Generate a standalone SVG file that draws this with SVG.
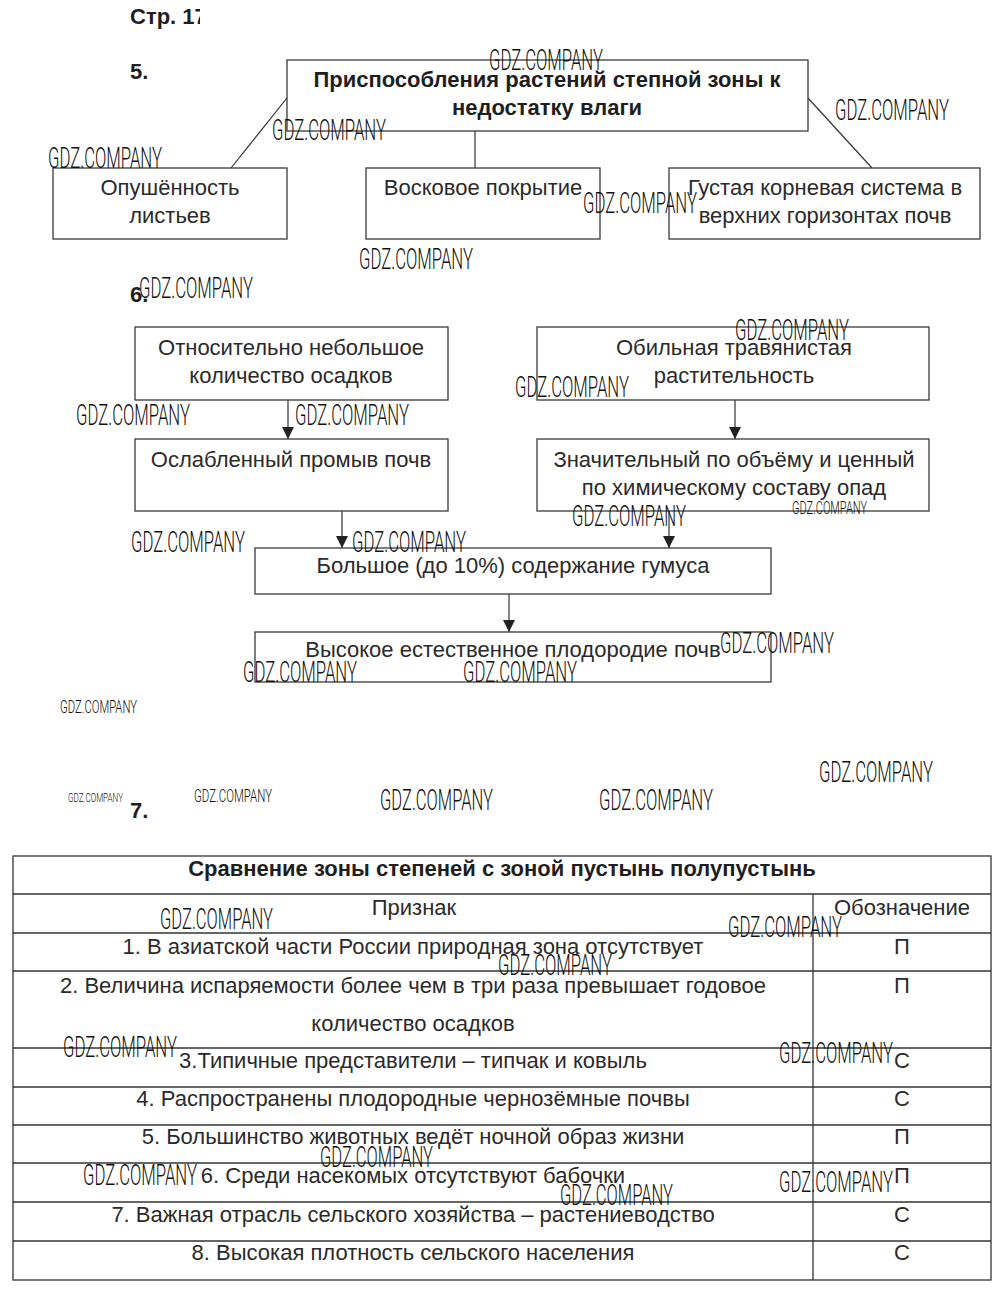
<svg xmlns="http://www.w3.org/2000/svg" width="1000" height="1291" viewBox="0 0 1000 1291">
<style>
.bg{fill:#ffffff}
.box{fill:none;stroke:#3a3a3a;stroke-width:1.3}
.ln{fill:none;stroke:#333333;stroke-width:1.2}
.t{font-family:"Liberation Sans",Arial,sans-serif;font-size:22px;fill:#2a2a2a;text-anchor:middle}
.b{font-family:"Liberation Sans",Arial,sans-serif;font-weight:bold;font-size:22px;fill:#1e1e1e}
.wm{font-family:Roboto,"Liberation Sans",sans-serif;font-weight:300;font-size:29px;fill:#111111}
.wms{font-family:Roboto,"Liberation Sans",sans-serif;font-weight:300;font-size:18px;fill:#111111}
.wmt{font-family:Roboto,"Liberation Sans",sans-serif;font-weight:300;font-size:13px;fill:#111111}
.grid{stroke:#333333;stroke-width:1.3;fill:none}
</style>
<defs>
<marker id="arr" markerUnits="userSpaceOnUse" markerWidth="12" markerHeight="12" refX="12" refY="6" orient="auto">
<path d="M0,0 L12,6 L0,12 z" fill="#222222"/>
</marker>
<clipPath id="clipPage"><rect x="0" y="0" width="200" height="40"/></clipPath>
</defs>
<rect class="bg" x="0" y="0" width="1000" height="1291"/>

<text class="b" x="130" y="24" clip-path="url(#clipPage)">Стр. 17</text>
<text class="b" x="130" y="79">5.</text>
<text class="b" x="130" y="302">6.</text>
<text class="b" x="130" y="818">7.</text>

<g id="connectors">
<line class="ln" x1="287" y1="98" x2="231" y2="168"/>
<line class="ln" x1="475" y1="131" x2="475" y2="168"/>
<line class="ln" x1="808" y1="98" x2="872" y2="168"/>
<line class="ln" x1="288" y1="400" x2="288" y2="439" marker-end="url(#arr)"/>
<line class="ln" x1="735" y1="400" x2="735" y2="439" marker-end="url(#arr)"/>
<line class="ln" x1="342" y1="511" x2="342" y2="548" marker-end="url(#arr)"/>
<line class="ln" x1="669" y1="511" x2="669" y2="548" marker-end="url(#arr)"/>
<line class="ln" x1="509" y1="594" x2="509" y2="632" marker-end="url(#arr)"/>
</g>

<g id="n5-title">
<rect class="box" x="287" y="60" width="521" height="71"/>
<text class="b" x="547" y="87" text-anchor="middle">Приспособления растений степной зоны к</text>
<text class="b" x="547" y="115" text-anchor="middle">недостатку влаги</text>
</g>
<g id="n5-a">
<rect class="box" x="53" y="168" width="234" height="71"/>
<text class="t" x="170" y="195">Опушённость</text>
<text class="t" x="170" y="223">листьев</text>
</g>
<g id="n5-b">
<rect class="box" x="366" y="168" width="234" height="71"/>
<text class="t" x="483" y="195">Восковое покрытие</text>
</g>
<g id="n5-c">
<rect class="box" x="669" y="168" width="311" height="71"/>
<text class="t" x="825" y="195">Густая корневая система в</text>
<text class="t" x="825" y="223">верхних горизонтах почв</text>
</g>

<g id="n6-a">
<rect class="box" x="135" y="327" width="313" height="73"/>
<text class="t" x="291" y="355">Относительно небольшое</text>
<text class="t" x="291" y="383">количество осадков</text>
</g>
<g id="n6-b">
<rect class="box" x="537" y="327" width="392" height="73"/>
<text class="t" x="734" y="355">Обильная травянистая</text>
<text class="t" x="734" y="383">растительность</text>
</g>
<g id="n6-c">
<rect class="box" x="135" y="439" width="313" height="72"/>
<text class="t" x="291" y="467">Ослабленный промыв почв</text>
</g>
<g id="n6-d">
<rect class="box" x="537" y="439" width="392" height="72"/>
<text class="t" x="734" y="467">Значительный по объёму и ценный</text>
<text class="t" x="734" y="495">по химическому составу опад</text>
</g>
<g id="n6-e">
<rect class="box" x="255" y="548" width="516" height="46"/>
<text class="t" x="513" y="573">Большое (до 10%) содержание гумуса</text>
</g>
<g id="n6-f">
<rect class="box" x="255" y="632" width="516" height="50"/>
<text class="t" x="513" y="657">Высокое естественное плодородие почв</text>
</g>

<g id="table">
<rect class="grid" x="13" y="856" width="978" height="424"/>
<line class="grid" x1="13" y1="894" x2="991" y2="894"/>
<line class="grid" x1="13" y1="933" x2="991" y2="933"/>
<line class="grid" x1="13" y1="971" x2="991" y2="971"/>
<line class="grid" x1="13" y1="1048" x2="991" y2="1048"/>
<line class="grid" x1="13" y1="1087" x2="991" y2="1087"/>
<line class="grid" x1="13" y1="1125" x2="991" y2="1125"/>
<line class="grid" x1="13" y1="1163" x2="991" y2="1163"/>
<line class="grid" x1="13" y1="1202" x2="991" y2="1202"/>
<line class="grid" x1="13" y1="1241" x2="991" y2="1241"/>
<line class="grid" x1="813" y1="894" x2="813" y2="1280"/>
<text class="b" x="502" y="876" text-anchor="middle">Сравнение зоны степеней с зоной пустынь полупустынь</text>
<text class="t" x="414" y="915">Признак</text>
<text class="t" x="902" y="915">Обозначение</text>
<text class="t" x="413" y="954">1. В азиатской части России природная зона отсутствует</text>
<text class="t" x="902" y="954">П</text>
<text class="t" x="413" y="993">2. Величина испаряемости более чем в три раза превышает годовое</text>
<text class="t" x="413" y="1031">количество осадков</text>
<text class="t" x="902" y="993">П</text>
<text class="t" x="413" y="1068">3.Типичные представители – типчак и ковыль</text>
<text class="t" x="902" y="1068">С</text>
<text class="t" x="413" y="1106">4. Распространены плодородные чернозёмные почвы</text>
<text class="t" x="902" y="1106">С</text>
<text class="t" x="413" y="1144">5. Большинство животных ведёт ночной образ жизни</text>
<text class="t" x="902" y="1144">П</text>
<text class="t" x="413" y="1183">6. Среди насекомых отсутствуют бабочки</text>
<text class="t" x="902" y="1183">П</text>
<text class="t" x="413" y="1222">7. Важная отрасль сельского хозяйства – растениеводство</text>
<text class="t" x="902" y="1222">С</text>
<text class="t" x="413" y="1260">8. Высокая плотность сельского населения</text>
<text class="t" x="902" y="1260">С</text>
</g>

<g id="watermarks">
<text class="wm" x="489" y="70" textLength="114" lengthAdjust="spacingAndGlyphs">GDZ.COMPANY</text>
<text class="wm" x="835" y="120" textLength="114" lengthAdjust="spacingAndGlyphs">GDZ.COMPANY</text>
<text class="wm" x="272" y="140" textLength="114" lengthAdjust="spacingAndGlyphs">GDZ.COMPANY</text>
<text class="wm" x="48" y="168" textLength="114" lengthAdjust="spacingAndGlyphs">GDZ.COMPANY</text>
<text class="wm" x="583" y="213" textLength="114" lengthAdjust="spacingAndGlyphs">GDZ.COMPANY</text>
<text class="wm" x="359" y="269" textLength="114" lengthAdjust="spacingAndGlyphs">GDZ.COMPANY</text>
<text class="wm" x="139" y="298" textLength="114" lengthAdjust="spacingAndGlyphs">GDZ.COMPANY</text>
<text class="wm" x="735" y="340" textLength="114" lengthAdjust="spacingAndGlyphs">GDZ.COMPANY</text>
<text class="wm" x="515" y="397" textLength="114" lengthAdjust="spacingAndGlyphs">GDZ.COMPANY</text>
<text class="wm" x="76" y="425" textLength="114" lengthAdjust="spacingAndGlyphs">GDZ.COMPANY</text>
<text class="wm" x="295" y="425" textLength="114" lengthAdjust="spacingAndGlyphs">GDZ.COMPANY</text>
<text class="wm" x="572" y="526" textLength="114" lengthAdjust="spacingAndGlyphs">GDZ.COMPANY</text>
<text class="wms" x="792" y="514" textLength="75" lengthAdjust="spacingAndGlyphs">GDZ.COMPANY</text>
<text class="wm" x="131" y="552" textLength="114" lengthAdjust="spacingAndGlyphs">GDZ.COMPANY</text>
<text class="wm" x="352" y="552" textLength="114" lengthAdjust="spacingAndGlyphs">GDZ.COMPANY</text>
<text class="wm" x="720" y="653" textLength="114" lengthAdjust="spacingAndGlyphs">GDZ.COMPANY</text>
<text class="wm" x="243" y="682" textLength="114" lengthAdjust="spacingAndGlyphs">GDZ.COMPANY</text>
<text class="wm" x="463" y="682" textLength="114" lengthAdjust="spacingAndGlyphs">GDZ.COMPANY</text>
<text class="wms" x="60" y="713" textLength="77" lengthAdjust="spacingAndGlyphs">GDZ.COMPANY</text>
<text class="wm" x="819" y="782" textLength="114" lengthAdjust="spacingAndGlyphs">GDZ.COMPANY</text>
<text class="wmt" x="68" y="802" textLength="55" lengthAdjust="spacingAndGlyphs">GDZ.COMPANY</text>
<text class="wms" x="194" y="802" textLength="78" lengthAdjust="spacingAndGlyphs">GDZ.COMPANY</text>
<text class="wm" x="380" y="810" textLength="113" lengthAdjust="spacingAndGlyphs">GDZ.COMPANY</text>
<text class="wm" x="599" y="810" textLength="114" lengthAdjust="spacingAndGlyphs">GDZ.COMPANY</text>
<text class="wm" x="160" y="929" textLength="113" lengthAdjust="spacingAndGlyphs">GDZ.COMPANY</text>
<text class="wm" x="728" y="937" textLength="114" lengthAdjust="spacingAndGlyphs">GDZ.COMPANY</text>
<text class="wm" x="498" y="975" textLength="114" lengthAdjust="spacingAndGlyphs">GDZ.COMPANY</text>
<text class="wm" x="63" y="1057" textLength="114" lengthAdjust="spacingAndGlyphs">GDZ.COMPANY</text>
<text class="wm" x="779" y="1063" textLength="114" lengthAdjust="spacingAndGlyphs">GDZ.COMPANY</text>
<text class="wm" x="83" y="1185" textLength="114" lengthAdjust="spacingAndGlyphs">GDZ.COMPANY</text>
<text class="wm" x="320" y="1167" textLength="113" lengthAdjust="spacingAndGlyphs">GDZ.COMPANY</text>
<text class="wm" x="560" y="1205" textLength="113" lengthAdjust="spacingAndGlyphs">GDZ.COMPANY</text>
<text class="wm" x="779" y="1192" textLength="114" lengthAdjust="spacingAndGlyphs">GDZ.COMPANY</text>
</g>
</svg>
